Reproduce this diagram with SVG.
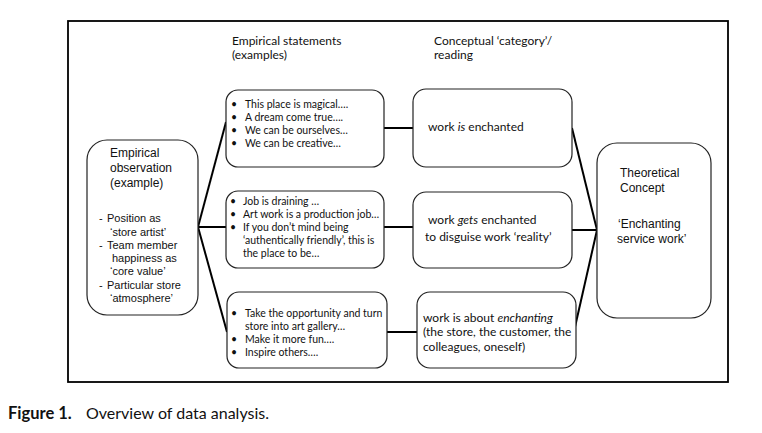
<svg xmlns="http://www.w3.org/2000/svg" width="762" height="433" viewBox="0 0 762 433">
<style>
.box{fill:#fff;stroke:#222;stroke-width:1.2}
.con{stroke:#000;stroke-width:2;fill:none}
.ar{font-family:"Liberation Sans",Arial,sans-serif;fill:#111}
.ca{font-family:Lato,"Open Sans",sans-serif;fill:#111}
.h{font-size:12px}
.s{font-size:11px}
.st{font-size:10.5px}
.c{font-size:12px}
</style>
<rect x="0" y="0" width="762" height="433" fill="#fff"/>
<rect x="68" y="21" width="660" height="361" fill="none" stroke="#000" stroke-width="1.8"/>

<g id="headings">
<text class="ca c" x="232" y="45">Empirical statements</text>
<text class="ca c" x="232" y="59">(examples)</text>
<text class="ca c" x="434" y="45">Conceptual ‘category’/</text>
<text class="ca c" x="434" y="59">reading</text>
</g>

<g id="connectors">
<line class="con" x1="198" y1="227" x2="226" y2="122"/>
<line class="con" x1="198" y1="227" x2="226" y2="227"/>
<line class="con" x1="198" y1="227" x2="227" y2="332"/>
<line class="con" x1="384" y1="128" x2="413" y2="128"/>
<line class="con" x1="384" y1="227" x2="413" y2="227"/>
<line class="con" x1="387" y1="332" x2="417" y2="332"/>
<line class="con" x1="572" y1="128" x2="597" y2="230"/>
<line class="con" x1="572" y1="230" x2="597" y2="230"/>
<line class="con" x1="575" y1="327" x2="597" y2="230"/>
</g>

<g id="observation">
<rect class="box" x="87" y="140" width="111" height="175" rx="20"/>
<text class="ar h" x="110" y="157">Empirical</text>
<text class="ar h" x="110" y="172">observation</text>
<text class="ar h" x="110" y="187">(example)</text>
<text class="ar s" x="99" y="222">-</text>
<text class="ar s" x="107" y="222">Position as</text>
<text class="ar s" x="110" y="236">‘store artist’</text>
<text class="ar s" x="99" y="249">-</text>
<text class="ar s" x="107" y="249">Team member</text>
<text class="ar s" x="112" y="262">happiness as</text>
<text class="ar s" x="110" y="275">‘core value’</text>
<text class="ar s" x="99" y="289">-</text>
<text class="ar s" x="107" y="289">Particular store</text>
<text class="ar s" x="110" y="302">‘atmosphere’</text>
</g>

<g id="statements1">
<rect class="box" x="226" y="90" width="158" height="77" rx="12"/>
<text class="ca st" x="231" y="108">•</text><text class="ca st" x="245" y="108">This place is magical….</text>
<text class="ca st" x="231" y="121">•</text><text class="ca st" x="245" y="121">A dream come true….</text>
<text class="ca st" x="231" y="134">•</text><text class="ca st" x="245" y="134">We can be ourselves…</text>
<text class="ca st" x="231" y="147">•</text><text class="ca st" x="245" y="147">We can be creative…</text>
</g>

<g id="statements2">
<rect class="box" x="226" y="191" width="158" height="77" rx="12"/>
<text class="ca st" x="230" y="205">•</text><text class="ca st" x="243" y="205">Job is draining …</text>
<text class="ca st" x="230" y="218">•</text><text class="ca st" x="243" y="218">Art work is a production job…</text>
<text class="ca st" x="230" y="231">•</text><text class="ca st" x="243" y="231">If you don’t mind being</text>
<text class="ca st" x="243" y="244">‘authentically friendly’, this is</text>
<text class="ca st" x="243" y="257">the place to be…</text>
</g>

<g id="statements3">
<rect class="box" x="227" y="292" width="160" height="76" rx="12"/>
<text class="ca st" x="231" y="317">•</text><text class="ca st" x="245" y="317">Take the opportunity and turn</text>
<text class="ca st" x="245" y="330">store into art gallery…</text>
<text class="ca st" x="231" y="343">•</text><text class="ca st" x="245" y="343">Make it more fun….</text>
<text class="ca st" x="231" y="356">•</text><text class="ca st" x="245" y="356">Inspire others….</text>
</g>

<g id="concept1">
<rect class="box" x="413" y="89" width="159" height="78" rx="13"/>
<text class="ca c" x="428" y="131">work <tspan font-style="italic">is</tspan> enchanted</text>
</g>

<g id="concept2">
<rect class="box" x="413" y="192" width="159" height="76" rx="13"/>
<text class="ca c" x="428" y="224">work <tspan font-style="italic">gets</tspan> enchanted</text>
<text class="ca c" x="425" y="241">to disguise work ‘reality’</text>
</g>

<g id="concept3">
<rect class="box" x="417" y="292" width="159" height="76" rx="13"/>
<text class="ca c" x="423" y="322">work is about <tspan font-style="italic">enchanting</tspan></text>
<text class="ca c" x="423" y="336">(the store, the customer, the</text>
<text class="ca c" x="423" y="351">colleagues, oneself)</text>
</g>

<g id="theory">
<rect class="box" x="597" y="143" width="114" height="175" rx="20"/>
<text class="ar h" x="620" y="177">Theoretical</text>
<text class="ar h" x="620" y="192">Concept</text>
<text class="ar h" x="618" y="228">‘Enchanting</text>
<text class="ar h" x="617" y="243">service work’</text>
</g>

<g id="caption">
<text class="ca" x="8" y="419" font-size="16.5" font-weight="bold">Figure 1.</text>
<text class="ca" x="86" y="419" font-size="16">Overview of data analysis.</text>
</g>
</svg>
